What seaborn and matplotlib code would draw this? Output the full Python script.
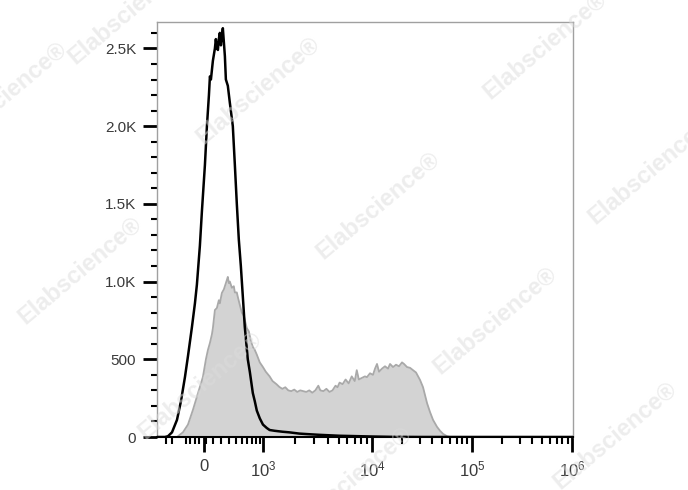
import numpy as np
import pandas as pd
import matplotlib
matplotlib.use("Agg")
import matplotlib.pyplot as plt
import seaborn as sns

# Fluorescence intensity (biexponential axis) and event counts
black_x = [-681, -519, -465, -399, -324, -269, -217, -180, -133, -99, -77, -44, -22,
           11, 33, 55, 66, 77, 99, 122, 133, 145, 157, 168, 180, 193, 205, 217, 230,
           243, 256, 282, 310, 353, 384, 415, 448, 483, 501, 556, 616, 659, 727, 775,
           826, 907, 1000, 1088, 1159, 1290, 1526, 1770, 2185, 2530, 3330, 5090, 7760,
           10230, 15140, 30200, 1020000]
black_y = [0, 0, 5, 30, 110, 230, 386, 520, 708, 860, 980, 1230, 1450,
           1750, 2000, 2200, 2320, 2300, 2420, 2500, 2560, 2500, 2490, 2560, 2600, 2520,
           2580, 2630, 2540, 2450, 2300, 2260, 2150, 2000, 1750, 1500, 1270, 1100, 1000,
           708, 500, 420, 283, 230, 170, 120, 80, 58, 45, 40, 34, 30, 22, 19, 14, 8, 5,
           3, 1, 0, 0]

gray_x = [-324, -243, -180, -122, -66, -11, 22, 44, 66, 88, 99, 122, 145, 168, 180,
          205, 230, 256, 269, 282, 296, 310, 339, 368, 384, 415, 432, 465, 501, 537,
          596, 637, 681, 727, 775, 826, 907, 1000, 1065, 1159, 1235, 1344, 1432, 1526,
          1626, 1732, 1846, 1967, 2095, 2232, 2378, 2533, 2699, 2875, 3064, 3264, 3405,
          3628, 3865, 4119, 4387, 4675, 4877, 5087, 5420, 5770, 6150, 6555, 6980, 7280,
          7600, 8090, 8630, 9000, 9590, 10230, 10720, 11220, 11750, 12590, 13490, 14450,
          15140, 16220, 17380, 18620, 19950, 20890, 22390, 23990, 25700, 27540, 30200,
          32360, 35480, 38020, 40740, 44670, 47860, 51290, 56230, 60260]
gray_y = [0, 30, 80, 174, 280, 386, 500, 560, 605, 660, 700, 817, 830, 880, 860,
          927, 950, 990, 1010, 1030, 990, 1000, 960, 970, 930, 930, 900, 850, 800, 780,
          700, 680, 620, 580, 560, 530, 480, 450, 420, 390, 360, 340, 322, 310,
          320, 300, 295, 305, 290, 300, 295, 290, 300, 285, 300, 330, 300,
          295, 310, 290, 300, 330, 320, 350, 340, 370, 345, 390, 360, 430,
          370, 380, 390, 385, 410, 400, 440, 470, 420, 440, 455, 440,
          470, 450, 465, 455, 480, 470, 450, 445, 430, 415, 367,
          320, 218, 160, 110, 65, 40, 20, 5, 0]

x_major = [0, 1e3, 1e4, 1e5, 1e6]
x_major_labels = ["0", r"$10^{\mathregular{3}}$", r"$10^{\mathregular{4}}$",
                  r"$10^{\mathregular{5}}$", r"$10^{\mathregular{6}}$"]
x_minor = ([-500, -400, -200, -150, -100, -50, 25] + list(range(100, 1000, 100))
           + [k * 10 ** e for e in (3, 4, 5) for k in range(2, 10)])
y_major = [0, 500, 1000, 1500, 2000, 2500]
y_major_labels = ["0", "500", "1.0K", "1.5K", "2.0K", "2.5K"]

# biexponential-like axis: arcsinh, stretched piecewise so decades sit where FlowJo puts them
C = 380.0
anchor_vals = np.array([-1e7, -1e3, 0, 1e3, 1e4, 1e5, 1e6, 1e7])
anchor_u = np.arcsinh(anchor_vals / C)
anchor_pos = np.array([-459, -59, 0, 59, 168, 268, 368, 468], dtype=float)


def fwd(x):
    return np.interp(np.arcsinh(np.asarray(x, dtype=float) / C), anchor_u, anchor_pos)


def inv(p):
    return C * np.sinh(np.interp(np.asarray(p, dtype=float), anchor_pos, anchor_u))


black = pd.DataFrame({"x": black_x, "count": black_y})
gray = pd.DataFrame({"x": gray_x, "count": gray_y})

sns.set_style("ticks")
plt.rcParams["font.family"] = ["Liberation Sans", "DejaVu Sans"]
plt.rcParams["mathtext.fontset"] = "custom"
plt.rcParams["mathtext.rm"] = "Liberation Sans"
plt.rcParams["mathtext.it"] = "Liberation Sans"

fig = plt.figure(figsize=(6.88, 4.90), dpi=100)
ax = fig.add_axes([157 / 688, 53 / 490, 416 / 688, 415 / 490])
ax.set_xscale("function", functions=(fwd, inv))

ax.fill_between(gray["x"], 0, gray["count"], color="#d3d3d3", lw=0, zorder=1)
sns.lineplot(data=gray, x="x", y="count", sort=False, color="#a9a9a9", lw=1.3,
             ax=ax, zorder=2)
sns.lineplot(data=black, x="x", y="count", sort=False, color="black", lw=1.8,
             ax=ax, zorder=3)

ax.set_xlim(-681, 1.02e6)
ax.set_ylim(0, 2670)
ax.set_xlabel("")
ax.set_ylabel("")

ax.set_xticks(x_major)
ax.set_xticklabels(x_major_labels)
ax.set_xticks(x_minor, minor=True)
ax.set_yticks(y_major)
ax.set_yticklabels(y_major_labels)
ax.set_yticks(np.arange(100, 2670, 100), minor=True)

ax.tick_params(axis="both", which="both", bottom=True, left=True, top=False,
               right=False, direction="out", color="black")
ax.tick_params(axis="both", which="major", width=2, labelsize=11, labelcolor="#3a3a3a")
ax.tick_params(axis="both", which="minor", width=1.5)
ax.tick_params(axis="x", which="major", length=11, pad=5, labelsize=12)
ax.tick_params(axis="x", which="minor", length=5)
ax.tick_params(axis="y", which="major", length=10, pad=5)
ax.tick_params(axis="y", which="minor", length=4)

for side in ("left", "top", "right"):
    ax.spines[side].set_color("#a0a0a0")
    ax.spines[side].set_linewidth(1.0)
ax.spines["bottom"].set_color("black")
ax.spines["bottom"].set_linewidth(1.5)

# faint diagonal watermark
wm_spots = [(130, 10), (258, 90), (545, 45), (378, 205), (650, 170), (80, 270),
            (495, 320), (200, 385), (615, 435), (350, 480), (5, 95)]
for px, py in wm_spots:
    fig.text(px / 688, 1 - py / 490, "Elabscience\u00ae", rotation=40, fontsize=17,
             fontweight="bold", color="#dcdcdc", alpha=0.5, ha="center", va="center",
             zorder=10)

fig.savefig("out.png", dpi=100)
